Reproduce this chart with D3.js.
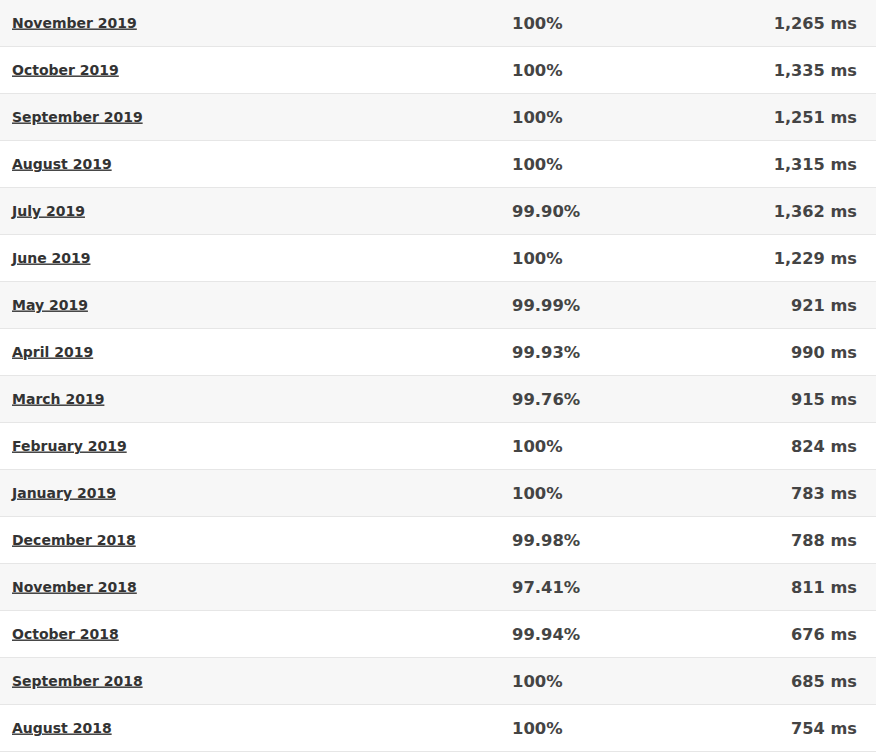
<!DOCTYPE html>
<html><head><meta charset="utf-8">
<script src="https://cdn.jsdelivr.net/npm/d3@7"></script>
<style>body{margin:0;background:#fff}</style></head>
<body><svg id="c" width="876" height="752"></svg>
<script>
const months = ["November 2019","October 2019","September 2019","August 2019","July 2019","June 2019","May 2019","April 2019","March 2019","February 2019","January 2019","December 2018","November 2018","October 2018","September 2018","August 2018"];
const uptime = ["100%","100%","100%","100%","99.90%","100%","99.99%","99.93%","99.76%","100%","100%","99.98%","97.41%","99.94%","100%","100%"];
const responseMs = [1265,1335,1251,1315,1362,1229,921,990,915,824,783,788,811,676,685,754];

const svg = d3.select("#c");
const y = d3.scaleBand().domain(d3.range(months.length)).range([0, 47*months.length]).padding(0);
const fmt = d3.format(",");
const rows = svg.selectAll("g.row").data(months).join("g")
  .attr("transform",(d,i)=>`translate(0,${y(i)})`);
rows.append("rect").attr("width",876).attr("height",y.bandwidth())
  .attr("fill",(d,i)=>i%2===0?"#f7f7f7":"#fff");
rows.append("line").attr("x1",0).attr("x2",876).attr("y1",y.bandwidth()-0.5).attr("y2",y.bandwidth()-0.5)
  .attr("stroke","#e6e6e6");
const mid = y.bandwidth()/2 + 4;
rows.append("text").attr("x",12).attr("y",mid).text(d=>d)
  .attr("font-family","DejaVu Sans").attr("font-weight","bold").attr("font-size",14)
  .attr("fill","#333").attr("text-decoration","underline");
rows.append("text").attr("x",512).attr("y",mid+1).text((d,i)=>uptime[i])
  .attr("font-family","DejaVu Sans").attr("font-weight","bold").attr("font-size",16.4)
  .attr("fill","#444");
rows.append("text").attr("x",857).attr("y",mid+1).attr("text-anchor","end").text((d,i)=>fmt(responseMs[i])+" ms")
  .attr("font-family","DejaVu Sans").attr("font-weight","bold").attr("font-size",16.2)
  .attr("fill","#444");
</script></body></html>
